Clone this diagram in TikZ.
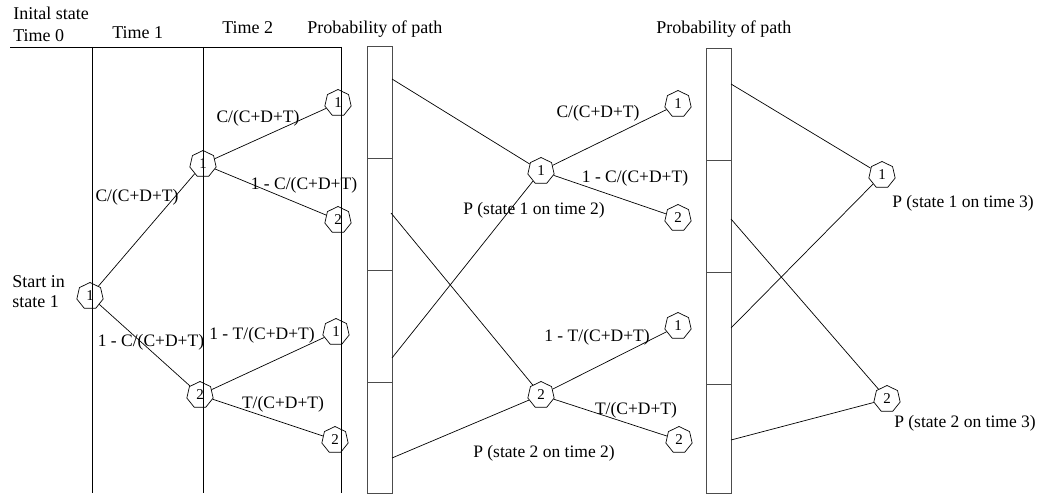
\documentclass[tikz,border=0pt]{standalone}
\usepackage{fontspec}
\setmainfont{Liberation Serif}
\usetikzlibrary{shapes.geometric}
\begin{document}
\begin{tikzpicture}[x=1pt,y=-1pt,
  st/.style={regular polygon,regular polygon sides=7,draw,minimum size=27pt,inner sep=0pt,font=\fontsize{15}{15}\selectfont},
  lbl/.style={font=\fontsize{17.5}{20}\selectfont,inner sep=0pt},
  hdr/.style={font=\fontsize{18}{20}\selectfont,inner sep=0pt},
  ln/.style={line width=0.7pt},
  bar/.style={draw,line width=0.8pt,black!70},
  every path/.style={line width=0.7pt}]
\useasboundingbox (0,0) rectangle (1042,495);
% grid
\coordinate (h0) at (10,47);
\coordinate (h1) at (341,47);
\coordinate (v1t) at (92,47);  \coordinate (v1b) at (92,493);
\coordinate (v2t) at (203,47); \coordinate (v2b) at (203,493);
\coordinate (v3t) at (341,47); \coordinate (v3b) at (341,493);
\draw[ln] (h0) -- (h1);
\draw[ln] (v1t) -- (v1b);
\draw[ln] (v2t) -- (v2b);
\draw[ln] (v3t) -- (v3b);
% headers
\node[hdr,anchor=west] (hinit) at (13,13) {Inital state};
\node[hdr,anchor=west] (htime0) at (13,36) {Time 0};
\node[hdr,anchor=west] (htime1) at (112,33) {Time 1};
\node[hdr,anchor=west] (htime2) at (222,28) {Time 2};
\node[hdr,anchor=west] (hprob1) at (307,29) {Probability of path};
\node[hdr,anchor=west] (hprob2) at (656,29) {Probability of path};
% bars
\draw[bar] (367,46) rectangle (392,493);
\draw[bar] (367,158) -- (392,158);
\draw[bar] (367,270) -- (392,270);
\draw[bar] (367,382) -- (392,382);
\draw[bar] (706,48) rectangle (731,493);
\draw[bar] (706,160) -- (731,160);
\draw[bar] (706,272) -- (731,272);
\draw[bar] (706,384) -- (731,384);
% left tree
\node[st] (s0) at (90,296) {1};
\node[st] (a1) at (203,164) {1};
\node[st] (a2) at (200,395) {2};
\node[st] (b1) at (338,103) {1};
\node[st] (b2) at (338,220) {2};
\node[st] (b3) at (336,332) {1};
\node[st] (b4) at (335,440) {2};
\draw (s0) -- (a1);
\draw (s0) -- (a2);
\draw (a1) -- (b1);
\draw (a1) -- (b2);
\draw (a2) -- (b3);
\draw (a2) -- (b4);
\node[hdr,anchor=west,align=left] (start) at (12,292) {Start in\\state 1};
\node[lbl] (l1) at (137,197) {C/(C+D+T)};
\node[lbl] (l2) at (151,342) {1 - C/(C+D+T)};
\node[lbl] (l3) at (258,118) {C/(C+D+T)};
\node[lbl] (l4) at (304,185) {1 - C/(C+D+T)};
\node[lbl] (l5) at (262,335) {1 - T/(C+D+T)};
\node[lbl] (l6) at (283,404) {T/(C+D+T)};
% middle tree
\coordinate (p1) at (392,79);
\coordinate (p2) at (391,213);
\coordinate (p3) at (392,358);
\coordinate (p4) at (392,458);
\node[st] (m1) at (541,171) {1};
\node[st] (m2) at (541,395) {2};
\node[st] (n1) at (678,104) {1};
\node[st] (n2) at (678,218) {2};
\node[st] (n3) at (678,326) {1};
\node[st] (n4) at (679,440) {2};
\draw (p1) -- (m1);
\draw (p3) -- (m1);
\draw (p2) -- (m2);
\draw (p4) -- (m2);
\draw (m1) -- (n1);
\draw (m1) -- (n2);
\draw (m2) -- (n3);
\draw (m2) -- (n4);
\node[lbl] (k1) at (598,113) {C/(C+D+T)};
\node[lbl] (k2) at (635,178) {1 - C/(C+D+T)};
\node[lbl] (k3) at (534,210) {P (state 1 on time 2)};
\node[lbl] (k4) at (597,337) {1 - T/(C+D+T)};
\node[lbl] (k5) at (636,410) {T/(C+D+T)};
\node[lbl] (k6) at (544,453) {P (state 2 on time 2)};
% right
\coordinate (q1) at (731,84);
\coordinate (q2) at (731,219);
\coordinate (q3) at (731,328);
\coordinate (q4) at (731,440);
\node[st] (r1) at (882,175) {1};
\node[st] (r2) at (887,399) {2};
\draw (q1) -- (r1);
\draw (q3) -- (r1);
\draw (q2) -- (r2);
\draw (q4) -- (r2);
\node[lbl] (t1) at (963,203) {P (state 1 on time 3)};
\node[lbl] (t2) at (965,423) {P (state 2 on time 3)};
\end{tikzpicture}
\end{document}
